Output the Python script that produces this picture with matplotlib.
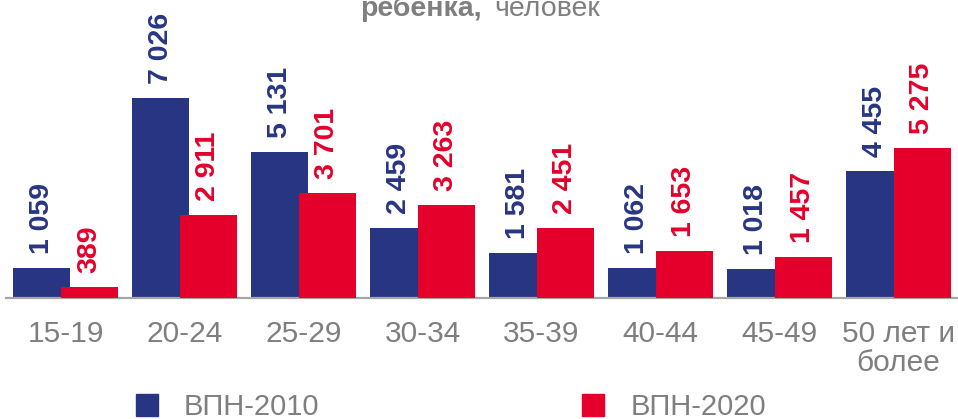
import numpy as np
import matplotlib.pyplot as plt
from matplotlib.patches import Patch

plt.rcParams['font.family'] = ['Liberation Sans', 'DejaVu Sans']

# data
groups = ['15-19', '20-24', '25-29', '30-34', '35-39', '40-44', '45-49', '50 лет и\nболее']
vpn2010 = [1059, 7026, 5131, 2459, 1581, 1062, 1018, 4455]
vpn2020 = [389, 2911, 3701, 3263, 2451, 1653, 1457, 5275]
series_names = ['ВПН-2010', 'ВПН-2020']

blue = '#283583'
red = '#E4002B'
gray = '#7F7F7F'

W, H = 958, 419
fig = plt.figure(figsize=(W / 100, H / 100), dpi=100)
ax = fig.add_axes([6 / W, 1 - 298 / H, 952 / W, 298 / H])

x = np.arange(len(groups))
bw = 0.479
off = 0.1975
b1 = ax.bar(x - off, vpn2010, bw, color=blue, zorder=2)
b2 = ax.bar(x + off, vpn2020, bw, color=red, zorder=3)

for bars, vals, col in [(b1, vpn2010, blue), (b2, vpn2020, red)]:
    for r, v in zip(bars, vals):
        ax.annotate(f'{v:,}'.replace(',', ' '),
                    (r.get_x() + r.get_width() / 2, r.get_height()),
                    xytext=(0, 10), textcoords='offset points',
                    rotation=90, ha='center', va='bottom',
                    fontsize=20.5, fontweight='bold', color=col,
                    clip_on=False, zorder=4)

ax.set_xlim(-0.5, len(groups) - 0.5)
ax.set_ylim(0, 10467)
ax.set_xticks(x)
ax.set_xticklabels(groups, fontsize=21.5, color=gray, linespacing=1.05)
ax.tick_params(axis='x', length=0, pad=16)
ax.set_yticks([])
for s in ['top', 'right', 'left']:
    ax.spines[s].set_visible(False)
ax.spines['bottom'].set_color('#A6A6A6')
ax.spines['bottom'].set_linewidth(1.6)
ax.set_facecolor('none')

# title (top line is cut off in the original)
ty = 1 - 16 / H
fig.text(482 / W, ty, 'ребенка,', ha='right', va='baseline',
         fontsize=20.5, fontweight='bold', color=gray)
fig.text(494 / W, ty, 'человек', ha='left', va='baseline',
         fontsize=20.5, color=gray)

handles = [Patch(color=blue, label=series_names[0]),
           Patch(color=red, label=series_names[1])]
fig.legend(handles=handles, loc='upper left',
           bbox_to_anchor=(136 / W, 1 - 393 / H), ncol=2, frameon=False,
           fontsize=21, labelcolor=gray, handlelength=0.75, handleheight=0.75,
           handletextpad=0.9, columnspacing=9.0, borderpad=0, borderaxespad=0)

fig.savefig('out.png', dpi=100)
